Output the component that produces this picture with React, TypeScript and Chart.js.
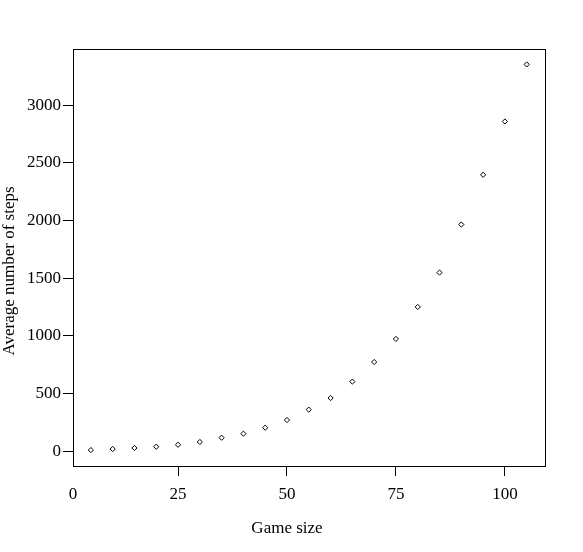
import React, { useEffect, useRef } from "react";
import { Chart, registerables } from "chart.js";

Chart.register(...registerables);

const gameSizes = [5, 10, 15, 20, 25, 30, 35, 40, 45, 50, 55, 60, 65, 70, 75, 80, 85, 90, 95, 100, 105];
const avgSteps = [11, 20, 29, 40, 57, 81, 118, 153, 205, 271, 361, 462, 604, 774, 974, 1251, 1549, 1965, 2396, 2858, 3352];
const xTickValues = [0, 25, 50, 75, 100];
const yTickValues = [0, 500, 1000, 1500, 2000, 2500, 3000];
const xTitle = "Game size";
const yTitle = "Average number of steps";
const xMin = 0.9;
const xMax = 109.2;
const yMin = -127;
const yMax = 3486;

const FONT = "'Liberation Serif', serif";
const FS = 17;

const boxPlugin = {
  id: "box",
  afterDraw(chart: any) {
    const { ctx, chartArea } = chart;
    ctx.save();
    ctx.strokeStyle = "#000";
    ctx.lineWidth = 1;
    const l = Math.round(chartArea.left) + 0.5;
    const t = Math.round(chartArea.top) + 0.5;
    const r = Math.round(chartArea.right) + 0.5;
    const b = Math.round(chartArea.bottom) + 0.5;
    ctx.strokeRect(l, t, r - l, b - t);
    // axis titles
    ctx.fillStyle = "#000";
    ctx.font = `${FS}px ${FONT}`;
    ctx.textAlign = "center";
    ctx.textBaseline = "alphabetic";
    ctx.fillText(xTitle, 287, 533);
    ctx.translate(14, 271);
    ctx.rotate(-Math.PI / 2);
    ctx.fillText(yTitle, 0, 0);
    ctx.restore();
  },
};

export default function App() {
  const ref = useRef<HTMLCanvasElement>(null);
  useEffect(() => {
    if (!ref.current) return;
    const chart = new Chart(ref.current, {
      type: "scatter",
      data: {
        datasets: [
          {
            data: gameSizes.map((x, i) => ({ x, y: avgSteps[i] })),
            pointStyle: "rectRot",
            pointRadius: 2.6,
            pointBorderWidth: 1,
            pointBorderColor: "#000",
            pointBackgroundColor: "#fff",
          },
        ],
      },
      options: {
        animation: false,
        responsive: false,
        maintainAspectRatio: false,
        layout: { padding: { top: 49, right: 38, left: 0, bottom: 0 } },
        plugins: { legend: { display: false }, tooltip: { enabled: false } },
        scales: {
          x: {
            type: "linear",
            min: xMin,
            max: xMax,
            afterBuildTicks: (scale: any) => {
              scale.ticks = xTickValues.map((v) => ({ value: v < xMin ? xMin : v }));
            },
            afterFit: (scale: any) => {
              scale.height = 86;
            },
            ticks: {
              color: "#000",
              font: { family: FONT, size: FS },
              padding: 8,
              maxRotation: 0,
              autoSkip: false,
              callback: (v: any) => (Number(v) < 1 ? "0" : String(v)),
            },
            grid: {
              drawOnChartArea: false,
              drawTicks: true,
              tickLength: 10,
              color: (c: any) => (c.tick && c.tick.value < 1 ? "rgba(0,0,0,0)" : "#000"),
            },
            border: { display: true, color: "#000" },
            title: { display: false },
          },
          y: {
            type: "linear",
            min: yMin,
            max: yMax,
            afterBuildTicks: (scale: any) => {
              scale.ticks = yTickValues.map((v) => ({ value: v }));
            },
            afterFit: (scale: any) => {
              scale.width = 73;
            },
            ticks: {
              color: "#000",
              font: { family: FONT, size: FS },
              padding: 2,
              autoSkip: false,
              callback: (v: any) => String(v),
            },
            grid: {
              drawOnChartArea: false,
              drawTicks: true,
              tickLength: 10,
              color: "#000",
            },
            border: { display: true, color: "#000" },
            title: { display: false },
          },
        },
      },
      plugins: [boxPlugin],
    });
    return () => chart.destroy();
  }, []);
  return (
    <div style={{ position: "fixed", left: 0, top: 0, width: 583, height: 552, background: "#fff" }}>
      <canvas ref={ref} width={583} height={552} style={{ width: 583, height: 552 }} />
    </div>
  );
}
